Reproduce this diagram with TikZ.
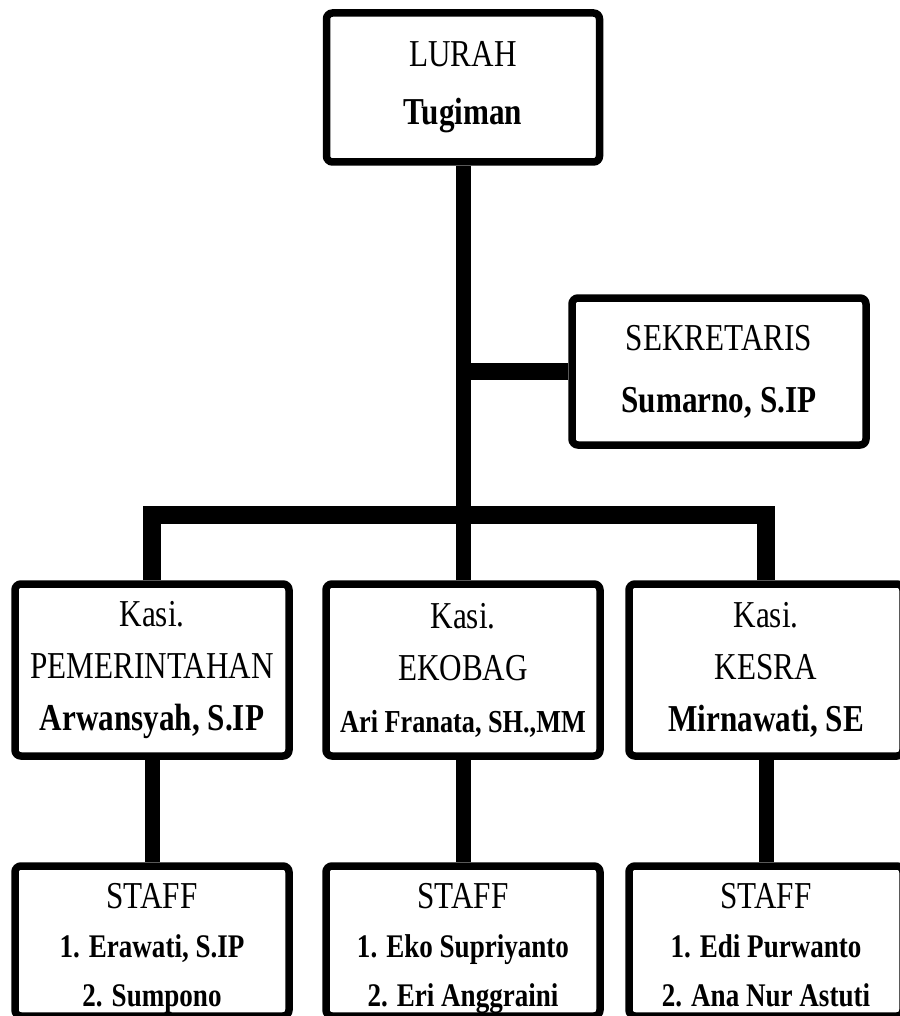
\documentclass[tikz,border=0pt]{standalone}
\usepackage{fontspec}
\setmainfont{Liberation Serif}[FakeStretch=0.82]
\usetikzlibrary{positioning}
\tikzset{main node/.style={rectangle,draw,line width=7.5pt,rounded corners=6pt,inner sep=0pt,align=center,minimum width=274pt},
  staff node/.style={main node,on grid,font=\fontsize{38}{49}\selectfont,minimum height=147pt},
  edge/.style={line width=15pt},
  bar/.style={line width=18pt}}
\newcommand{\staffname}{\fontsize{33}{49}\selectfont\bfseries}

\begin{document}
\begin{tikzpicture}[x=1pt,y=1pt]
    \useasboundingbox (0,0) rectangle (899,-1016);
    \node[main node, on grid, font=\fontsize{38}{58}\selectfont, minimum width=273pt, minimum height=149pt] (lurah) at (463,-87.5) {LURAH\\\textbf{Tugiman}};
    \node[main node, on grid, font=\fontsize{38}{62}\selectfont, minimum width=294pt, minimum height=147pt] (sekretaris) [below right = 284pt and 256pt of lurah] {SEKRETARIS\\\textbf{Sumarno, S.IP}};
    \coordinate[on grid, below = 427.5pt of lurah] (hub);
    % kasi
    \node[main node, on grid, font=\fontsize{38}{52}\selectfont, minimum height=172pt] (kasi2) [below = 582.5pt of lurah] {Kasi.\\EKOBAG\\\fontsize{32}{52}\selectfont\bfseries Ari Franata, SH.,MM};
    \node[main node, on grid, font=\fontsize{38}{52}\selectfont, minimum height=172pt] (kasi1) [left = 311pt of kasi2] {Kasi.\\PEMERINTAHAN\\\textbf{Arwansyah, S.IP}};
    \node[main node, on grid, font=\fontsize{38}{52}\selectfont, minimum height=172pt] (kasi3) [right = 303pt of kasi2] {Kasi.\\KESRA\\\textbf{Mirnawati, SE}};
    % staff
    \node[staff node] (staff1) [below = 271pt of kasi1] {\rule{0pt}{42pt}STAFF\\\staffname 1. Erawati, S.IP\\\staffname 2. Sumpono\rule[-10pt]{0pt}{10pt}};
    \node[staff node] (staff2) [below = 271pt of kasi2] {\rule{0pt}{42pt}STAFF\\\staffname 1. Eko Supriyanto\\\staffname 2. Eri Anggraini\rule[-10pt]{0pt}{10pt}};
    \node[staff node] (staff3) [below = 271pt of kasi3] {\rule{0pt}{42pt}STAFF\\\staffname 1. Edi Purwanto\\\staffname 2. Ana Nur Astuti\rule[-10pt]{0pt}{10pt}};
    \draw[edge] (lurah) -- (hub);
    \draw[line width=17pt] (sekretaris.west) -- (sekretaris.west -| hub);
    \draw[bar] (kasi1.north) |- (hub) -| (kasi3.north);
    \draw[edge] (kasi2.north) -- (kasi2.north |- hub);
    \foreach \i in {1,2,3}
      \draw[edge] (kasi\i) -- (staff\i);
\end{tikzpicture}
\end{document}
